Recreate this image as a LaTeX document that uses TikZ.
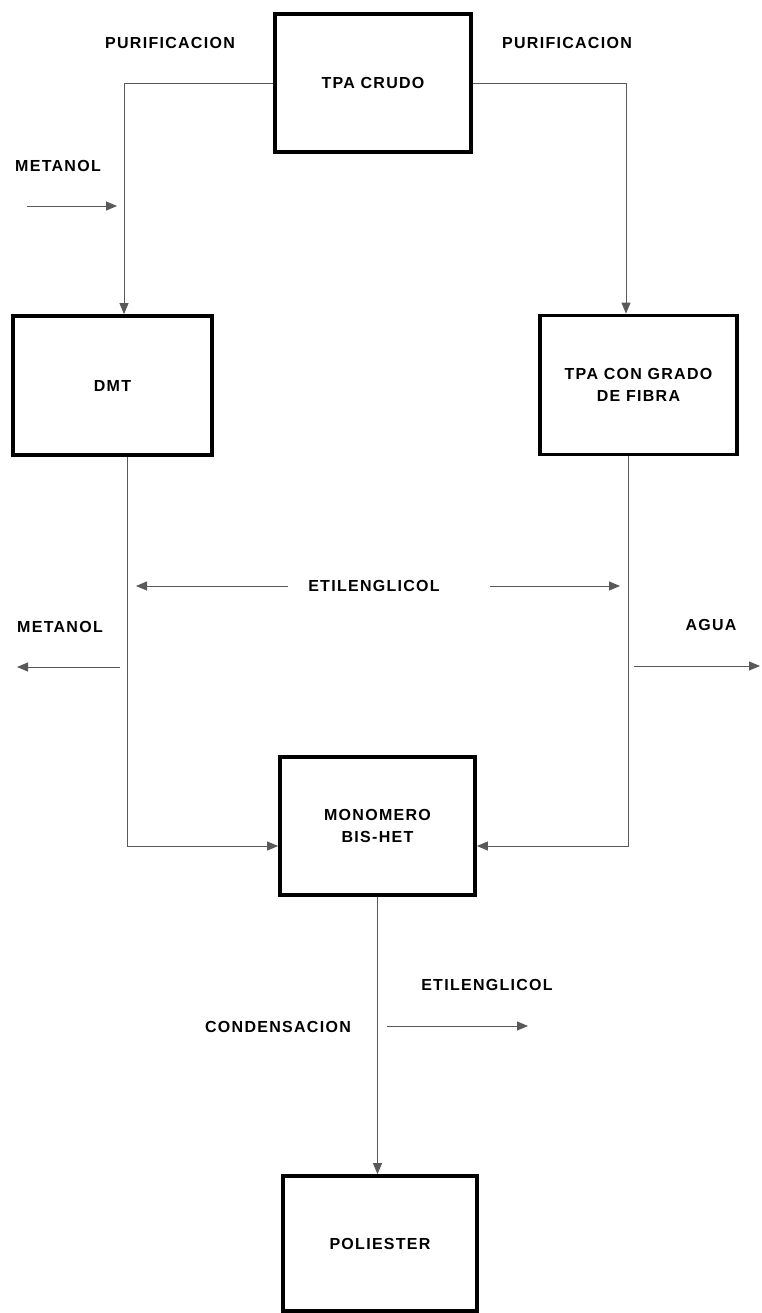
\documentclass[tikz,border=0pt]{standalone}
\usepackage{fontspec}
\setmainfont{Liberation Sans}
\newfontfamily\lblfont{Liberation Sans}[LetterSpace=8]
\usetikzlibrary{arrows.meta}
\begin{document}
\begin{tikzpicture}[x=1pt,y=-1pt,
  box/.style={draw=black,line width=3.8pt,inner sep=0pt,align=center,
    font=\lblfont\fontsize{16}{22}\selectfont\bfseries},
  lbl/.style={font=\lblfont\fontsize{16}{18}\selectfont\bfseries,inner sep=0pt,align=center},
  flow/.style={draw=black!65,line width=0.9pt,-{Triangle[length=11pt,width=9pt]}}]
\useasboundingbox (0,0) rectangle (761,1313);
% process boxes
\node[box,minimum width=196pt,minimum height=138pt] (crudo) at (373,83) {TPA CRUDO};
\node[box,minimum width=199pt,minimum height=139pt] (dmt) at (112.5,385.5) {DMT};
\node[box,minimum width=197pt,minimum height=139pt] (fibra) at (638.5,385) {TPA CON GRADO\\DE FIBRA};
\node[box,minimum width=195pt,minimum height=138pt] (mono) at (377.5,826) {MONOMERO\\BIS-HET};
\node[box,minimum width=194pt,minimum height=135pt] (poli) at (380,1243.5) {POLIESTER};
% stream labels
\node[lbl] (purl) at (170,43) {PURIFICACION};
\node[lbl] (purr) at (567,43) {PURIFICACION};
\node[lbl] (metin) at (58,166) {METANOL};
\node[lbl] (etil) at (374,586) {ETILENGLICOL};
\node[lbl] (metout) at (60,627) {METANOL};
\node[lbl] (agua) at (711,625) {AGUA};
\node[lbl] (etil2) at (487,985) {ETILENGLICOL};
\node[lbl] (cond) at (278,1027) {CONDENSACION};
% connection points
\coordinate (dmtIn) at (124,0 |- dmt.north);
\coordinate (fibIn) at (626,0 |- fibra.north);
\coordinate (dmtOut) at (127,0 |- dmt.south);
\coordinate (fibOut) at (628,0 |- fibra.south);
\coordinate (monoL) at (mono.west |- 0,846);
\coordinate (monoR) at (mono.east |- 0,846);
\coordinate (polIn) at (mono.south |- poli.north);
\coordinate (metS) at (27,206);
\coordinate (metE) at (117,206);
\coordinate (etlS) at (288,586);
\coordinate (etlE) at (136,586);
\coordinate (etrS) at (490,586);
\coordinate (etrE) at (620,586);
\coordinate (moS) at (120,667);
\coordinate (moE) at (17,667);
\coordinate (agS) at (634,666);
\coordinate (agE) at (760,666);
\coordinate (cdS) at (387,1026);
\coordinate (cdE) at (528,1026);
% connectors
\draw[flow] (crudo.west) -| (dmtIn);
\draw[flow] (crudo.east) -| (fibIn);
\draw[flow] (dmtOut) |- (monoL);
\draw[flow] (fibOut) |- (monoR);
\draw[flow] (mono.south) -- (polIn);
\draw[flow] (metS) -- (metE);
\draw[flow] (etlS) -- (etlE);
\draw[flow] (etrS) -- (etrE);
\draw[flow] (moS) -- (moE);
\draw[flow] (agS) -- (agE);
\draw[flow] (cdS) -- (cdE);
\end{tikzpicture}
\end{document}
